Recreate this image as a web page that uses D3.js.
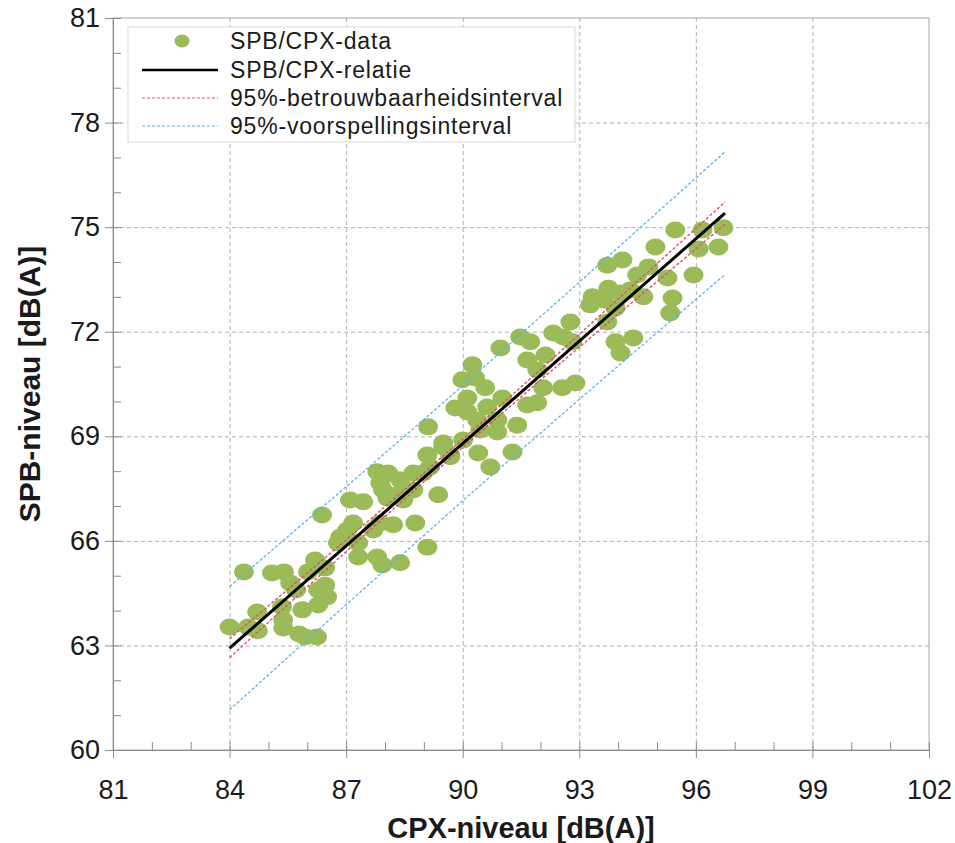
<!DOCTYPE html>
<html>
<head>
<meta charset="utf-8">
<script src="https://cdn.jsdelivr.net/npm/d3@7"></script>
<style>
  body { margin: 0; background: #fff; }
  svg { font-family: "Liberation Sans", Arial, sans-serif; }
</style>
</head>
<body>
<div id="container"></div>
<script>
// measured points, CPX level vs SPB level
const cpx = [
  84.0, 84.37, 84.48, 84.73, 84.71, 85.09, 85.40, 85.56, 85.71, 85.35, 85.38, 85.38,
  85.87, 85.79, 85.94, 86.25, 86.02, 86.20, 86.46, 86.28, 86.46, 86.28, 86.51, 86.38,
  86.79, 87.31, 87.31, 87.10, 87.44, 87.80, 88.08, 87.88, 87.95, 88.39, 88.73, 88.98,
  89.09, 89.50, 89.68, 89.37, 88.73, 88.39, 88.06, 88.47, 88.78, 88.21, 87.88, 87.70,
  87.18, 87.03, 86.85, 87.80, 87.93, 88.39, 89.09,
  90.97, 91.48, 91.74, 92.33, 92.13, 91.66, 91.92, 90.25, 89.99, 90.32, 90.58, 90.12,
  89.81, 90.12, 90.63, 91.02, 90.37, 90.89, 90.45, 90.89, 91.40, 92.07, 91.66, 91.92,
  92.56, 92.90, 89.11, 89.50, 90.01, 89.68, 89.16, 90.40, 91.28, 90.71,
  93.72, 94.11, 94.49, 94.78, 95.27, 94.96, 93.75, 93.34, 93.28, 93.62, 94.06, 94.31,
  94.65, 95.40, 95.34, 93.72, 93.93, 92.77, 92.59, 92.82, 93.93, 94.06, 94.39,
  95.47, 96.17, 96.71, 96.07, 96.58, 95.94
];
const spb = [
  63.53, 65.11, 63.53, 63.42, 63.96, 65.08, 65.11, 64.79, 64.59, 64.10, 63.73, 63.50,
  64.02, 63.33, 63.24, 63.24, 65.11, 65.45, 65.22, 64.59, 64.73, 64.16, 64.39, 66.74,
  65.94, 65.54, 65.94, 67.17, 67.12, 67.98, 67.95, 67.66, 67.46, 67.75, 67.95, 67.95,
  68.46, 68.69, 68.46, 67.32, 67.46, 67.37, 67.23, 67.17, 66.51, 66.46, 66.51, 66.31,
  66.51, 66.31, 66.11, 65.54, 65.31, 65.37, 65.82,
  71.53, 71.85, 71.71, 71.96, 71.33, 71.19, 70.90, 71.05, 70.62, 70.67, 70.39, 70.10,
  69.81, 69.70, 69.84, 70.10, 69.47, 69.47, 69.18, 69.12, 69.32, 70.39, 69.90, 69.96,
  70.39, 70.53, 69.27, 68.81, 68.89, 68.41, 68.12, 68.52, 68.55, 68.12,
  73.91, 74.06, 73.63, 73.86, 73.54, 74.43, 73.25, 73.00, 72.77, 72.91, 73.11, 73.20,
  73.00, 72.97, 72.54, 72.28, 72.68, 72.28, 71.85, 71.71, 71.71, 71.39, 71.82,
  74.92, 74.92, 74.98, 74.37, 74.43, 73.63
];

// regression line and intervals
const fitX = [84, 96.75];
const fitY = [62.92, 75.40];
const ciX = [84, 86, 88, 90, 92, 94, 96.75];
const ciUpper = [63.19, 65.08, 66.98, 68.92, 70.91, 72.94, 75.72];
const ciLower = [62.65, 64.68, 66.70, 68.68, 70.61, 72.50, 75.08];
const piX = [84, 87, 90, 93, 96.75];
const piUpper = [64.69, 67.55, 70.45, 73.42, 77.16];
const piLower = [61.15, 64.17, 67.15, 70.06, 73.64];

const xTicks = [81, 84, 87, 90, 93, 96, 99, 102];
const yTicks = [60, 63, 66, 69, 72, 75, 78, 81];
const legendLabels = ["SPB/CPX-data", "SPB/CPX-relatie", "95%-betrouwbaarheidsinterval", "95%-voorspellingsinterval"];

let w = 955, h = 843;
let padLeft = 113, padRight = 929, padTop = 18, padBottom = 750;

let viz = d3.select("#container").append("svg")
  .attr("width", w).attr("height", h);

let xScale = d3.scaleLinear().domain([81, 102]).range([padLeft, padRight]);
let yScale = d3.scaleLinear().domain([60, 81]).range([padBottom, padTop]);

const green = "#9BBB59";
const axisColor = "#8c8c8c";

// gridlines
let gridX = viz.append("g").attr("transform", `translate(0,${padBottom})`)
  .call(d3.axisBottom(xScale).tickValues(xTicks.slice(1, -1)).tickSize(-(padBottom - padTop)).tickFormat(""));
gridX.select(".domain").remove();
gridX.selectAll("line").attr("stroke", "#b0b0b0").attr("stroke-dasharray", "4,3");

let gridY = viz.append("g").attr("transform", `translate(${padLeft},0)`)
  .call(d3.axisLeft(yScale).tickValues(yTicks.slice(1, -1)).tickSize(-(padRight - padLeft)).tickFormat(""));
gridY.select(".domain").remove();
gridY.selectAll("line").attr("stroke", "#b0b0b0").attr("stroke-dasharray", "4,3");

// plot frame
viz.append("rect")
  .attr("x", padLeft).attr("y", padTop)
  .attr("width", padRight - padLeft).attr("height", padBottom - padTop)
  .attr("fill", "none").attr("stroke", "#a6a6a6").attr("stroke-width", 1);

// minor ticks (inside)
let xMinor = viz.append("g").attr("transform", `translate(0,${padBottom})`)
  .call(d3.axisBottom(xScale).tickValues(d3.range(81, 103)).tickSize(-8).tickFormat(""));
xMinor.select(".domain").remove();
xMinor.selectAll("line").attr("stroke", axisColor);
let yMinor = viz.append("g").attr("transform", `translate(${padLeft},0)`)
  .call(d3.axisLeft(yScale).tickValues(d3.range(60, 82)).tickSize(-8).tickFormat(""));
yMinor.select(".domain").remove();
yMinor.selectAll("line").attr("stroke", axisColor);

// main axes
let xAxisGroup = viz.append("g").attr("transform", `translate(0,${padBottom})`)
  .call(d3.axisBottom(xScale).tickValues(xTicks).tickSize(8).tickPadding(22));
xAxisGroup.select(".domain").attr("stroke", axisColor);
xAxisGroup.selectAll("line").attr("stroke", axisColor);
xAxisGroup.selectAll("text").attr("font-size", 27).attr("fill", "#1a1a1a")
  .attr("font-family", "Liberation Sans, Arial, sans-serif");

let yAxisGroup = viz.append("g").attr("transform", `translate(${padLeft},0)`)
  .call(d3.axisLeft(yScale).tickValues(yTicks).tickSize(8).tickPadding(5));
yAxisGroup.select(".domain").attr("stroke", axisColor);
yAxisGroup.selectAll("line").attr("stroke", axisColor);
yAxisGroup.selectAll("text").attr("font-size", 27).attr("fill", "#1a1a1a")
  .attr("font-family", "Liberation Sans, Arial, sans-serif");

// axis titles
viz.append("text")
  .attr("x", (padLeft + padRight) / 2).attr("y", 838)
  .attr("text-anchor", "middle")
  .attr("font-size", 29).attr("font-weight", "bold").attr("fill", "#1a1a1a")
  .text("CPX-niveau [dB(A)]");
viz.append("text")
  .attr("transform", `translate(40,${(padTop + padBottom) / 2}) rotate(-90)`)
  .attr("text-anchor", "middle")
  .attr("font-size", 30).attr("font-weight", "bold").attr("fill", "#1a1a1a")
  .text("SPB-niveau [dB(A)]");

// data points
let graphGroup = viz.append("g").classed("graphGroup", true);
graphGroup.selectAll(".datapoint")
  .data(cpx.map((c, i) => ({ x: c, y: spb[i] })))
  .enter()
  .append("ellipse")
  .classed("datapoint", true)
  .attr("cx", d => xScale(d.x))
  .attr("cy", d => yScale(d.y))
  .attr("rx", 10)
  .attr("ry", 8.5)
  .attr("fill", green);

// lines
let line = d3.line().x(d => xScale(d[0])).y(d => yScale(d[1]));
function drawBand(xs, ys, color, dash, width) {
  graphGroup.append("path")
    .attr("d", line(xs.map((v, i) => [v, ys[i]])))
    .attr("fill", "none")
    .attr("stroke", color)
    .attr("stroke-width", width)
    .attr("stroke-dasharray", dash);
}
drawBand(piX, piUpper, "#5ab4e6", "3,2", 1.3);
drawBand(piX, piLower, "#5ab4e6", "3,2", 1.3);
drawBand(ciX, ciUpper, "#e0506e", "3,2", 1.4);
drawBand(ciX, ciLower, "#e0506e", "3,2", 1.4);
drawBand(fitX, fitY, "#000", null, 3);

// legend
let legend = viz.append("g");
legend.append("rect")
  .attr("x", 128).attr("y", 27).attr("width", 447).attr("height", 115)
  .attr("fill", "#fff").attr("stroke", "#d9d9d9");
let rowsY = [41, 70, 98, 126];
legend.append("ellipse").attr("cx", 182).attr("cy", rowsY[0]).attr("rx", 7.5).attr("ry", 6.5).attr("fill", green);
legend.append("line").attr("x1", 142).attr("x2", 218).attr("y1", rowsY[1]).attr("y2", rowsY[1])
  .attr("stroke", "#000").attr("stroke-width", 2.5);
legend.append("line").attr("x1", 142).attr("x2", 218).attr("y1", rowsY[2]).attr("y2", rowsY[2])
  .attr("stroke", "#e0506e").attr("stroke-width", 1.2).attr("stroke-dasharray", "3,2");
legend.append("line").attr("x1", 142).attr("x2", 218).attr("y1", rowsY[3]).attr("y2", rowsY[3])
  .attr("stroke", "#5ab4e6").attr("stroke-width", 1.2).attr("stroke-dasharray", "3,2");
legend.selectAll(".legendLabel")
  .data(legendLabels)
  .enter()
  .append("text")
  .attr("x", 230)
  .attr("y", (d, i) => rowsY[i])
  .attr("dy", "0.35em")
  .attr("font-size", 23)
  .attr("letter-spacing", "0.8px")
  .attr("fill", "#1a1a1a")
  .text(d => d);
</script>
</body>
</html>
